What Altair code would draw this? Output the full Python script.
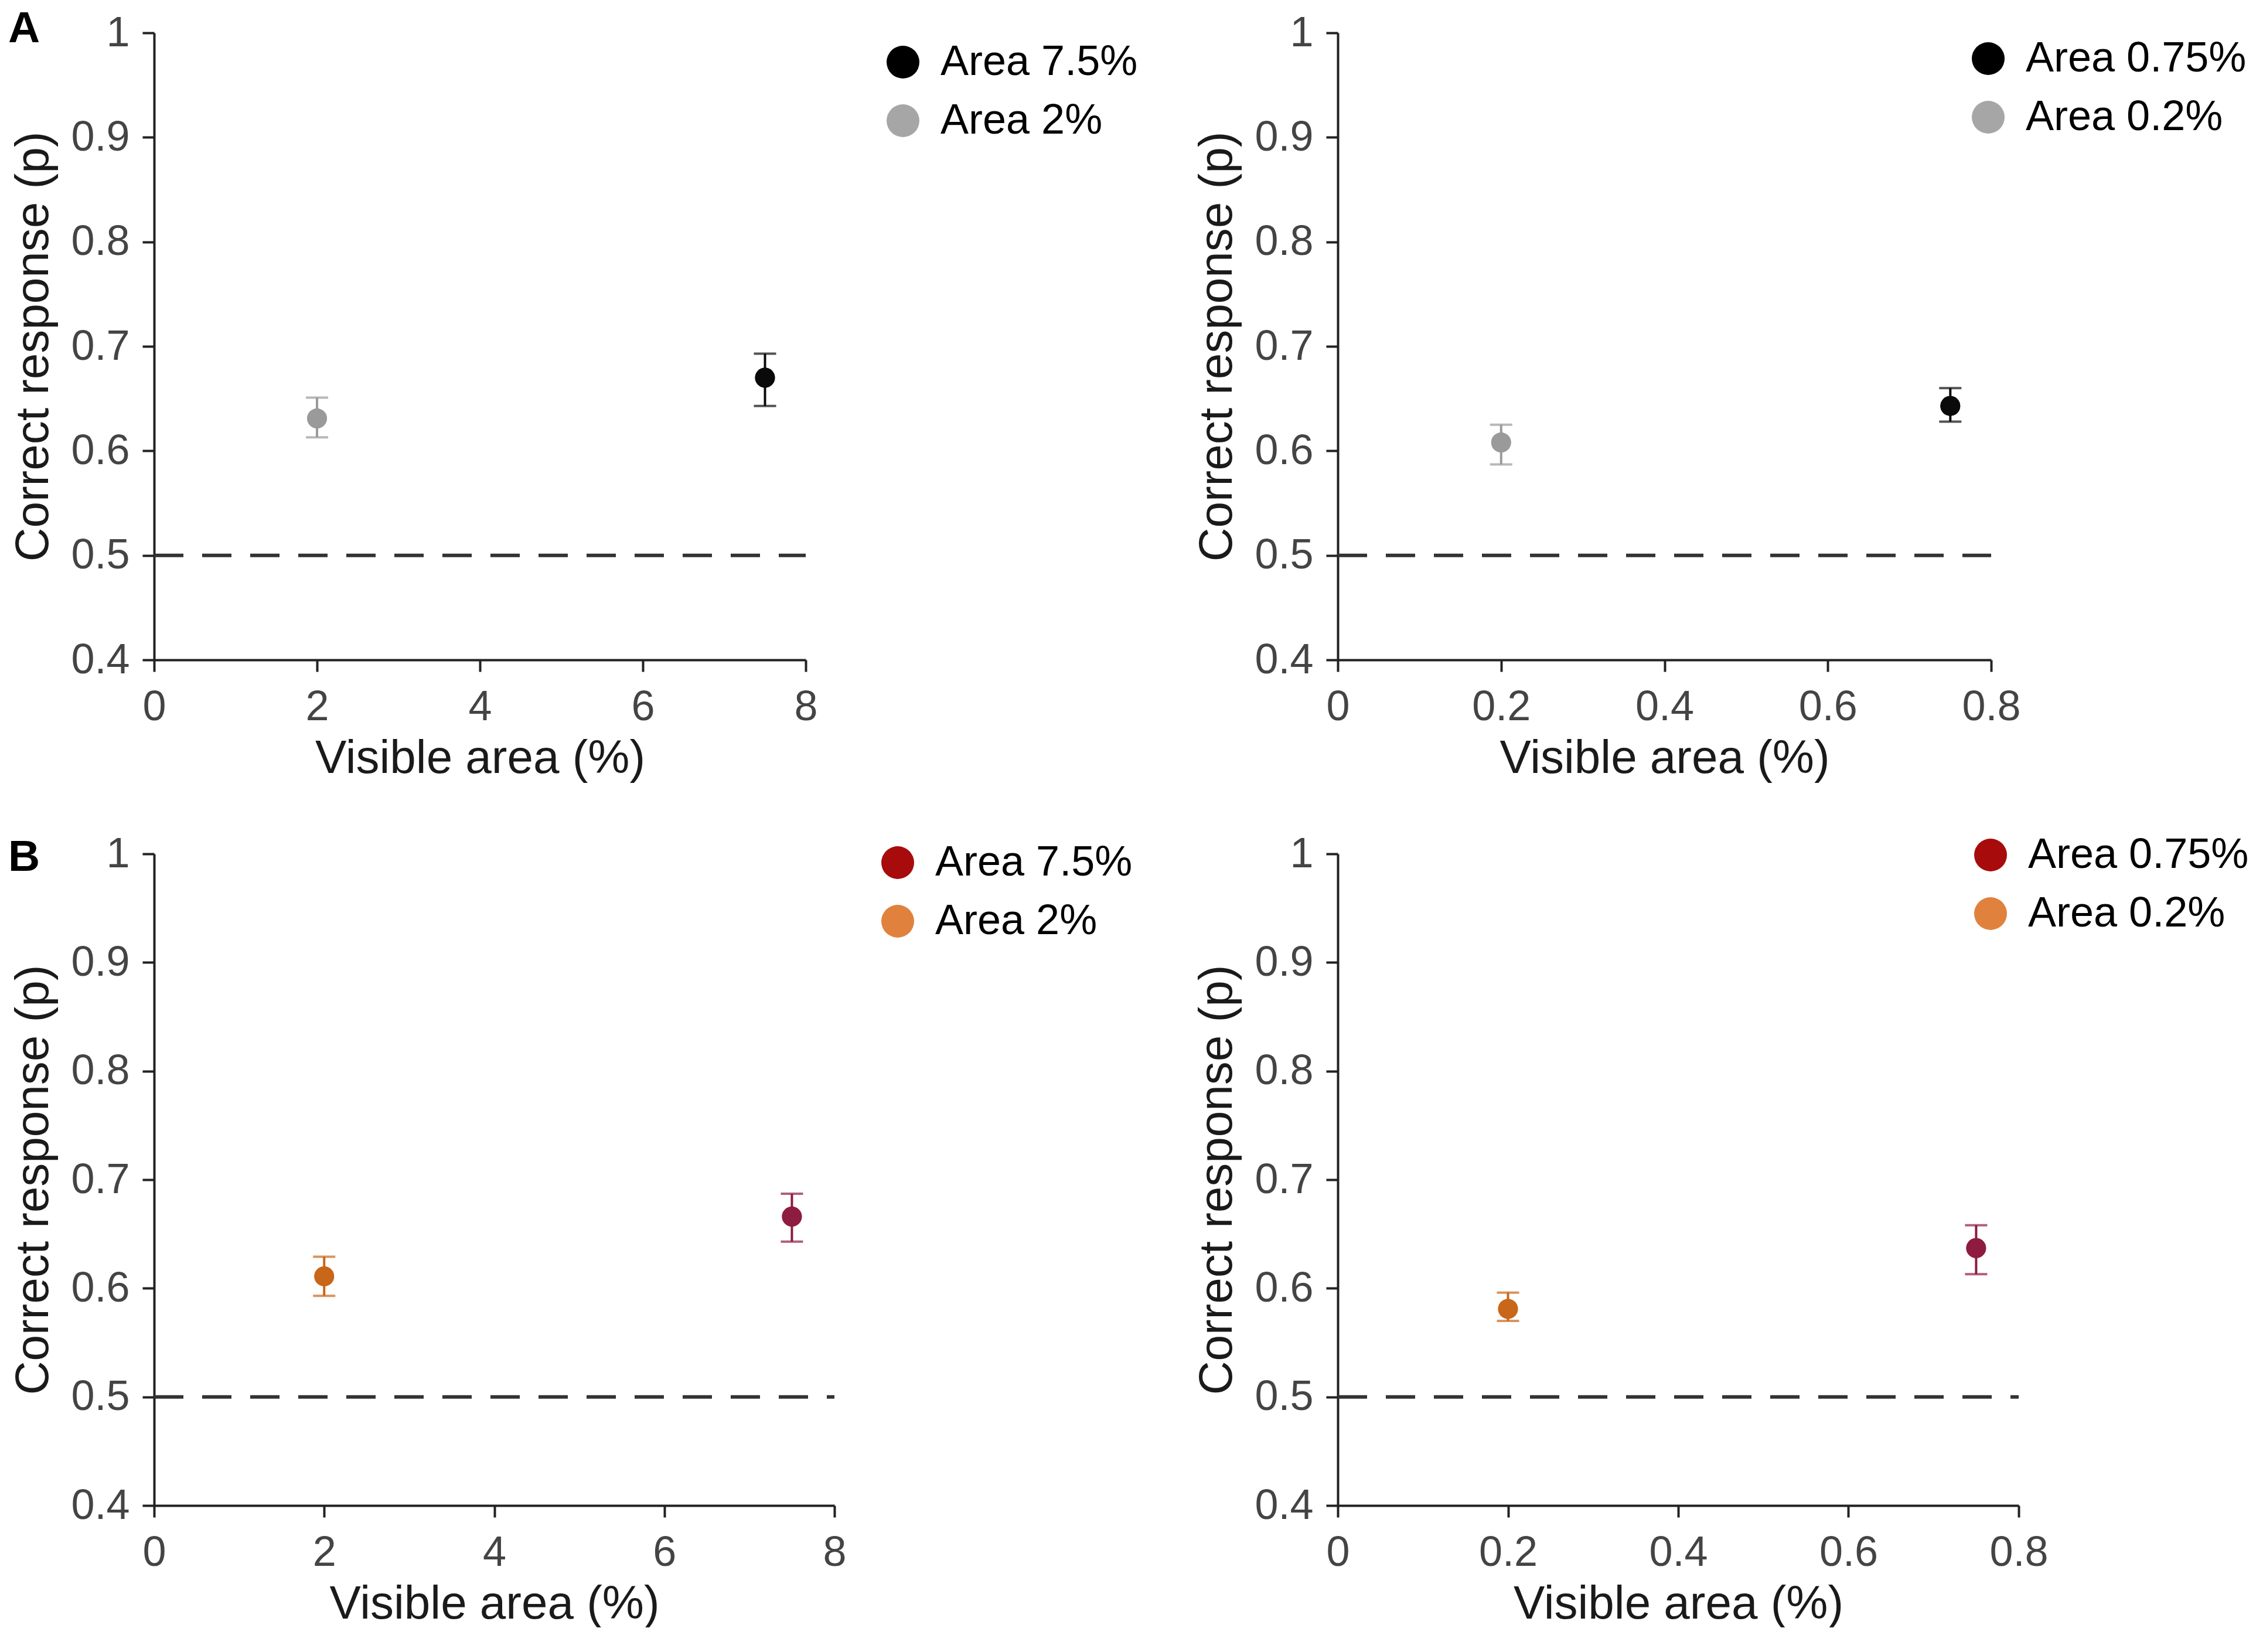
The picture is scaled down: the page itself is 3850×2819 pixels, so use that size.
import altair as alt
import pandas as pd

FONT = "Liberation Sans"

# ---- data ----
a1_x = [7.5, 2]
a1_y = [0.670, 0.631]
a1_lo = [0.643, 0.613]
a1_hi = [0.693, 0.651]
a1_labels = ["Area 7.5%", "Area 2%"]

a2_x = [0.75, 0.2]
a2_y = [0.643, 0.608]
a2_lo = [0.628, 0.587]
a2_hi = [0.660, 0.625]
a2_labels = ["Area 0.75%", "Area 0.2%"]

b1_x = [7.5, 2]
b1_y = [0.666, 0.611]
b1_lo = [0.643, 0.593]
b1_hi = [0.687, 0.629]
b1_labels = ["Area 7.5%", "Area 2%"]

b2_x = [0.75, 0.2]
b2_y = [0.637, 0.581]
b2_lo = [0.613, 0.570]
b2_hi = [0.658, 0.596]
b2_labels = ["Area 0.75%", "Area 0.2%"]

y_ticks = [0.4, 0.5, 0.6, 0.7, 0.8, 0.9, 1.0]
x_ticks_big = [0, 2, 4, 6, 8]
x_ticks_small = [0, 0.2, 0.4, 0.6, 0.8]
chance = 0.5

gray_legend = ["#000000", "#a6a6a6"]
gray_data = ["#0a0a0a", "#9a9a9a"]
warm_legend = ["#a80b0b", "#e0823d"]
warm_data = ["#8e1b40", "#c8661a"]


def panel(xs, ys, lo, hi, labels, leg_cols, dat_cols, xmax, xticks,
          w, h, legx, legy, letter=None, letter_dy=18):
    df = pd.DataFrame({"x": xs, "y": ys, "lo": lo, "hi": hi,
                       "label": labels, "dcol": dat_cols})
    xs_ = alt.Scale(domain=[0, xmax], nice=False, zero=False)
    ys_ = alt.Scale(domain=[0.4, 1.0], nice=False, zero=False)
    xaxis = alt.Axis(values=xticks, format="~g", title="Visible area (%)",
                     labelPadding=25, titlePadding=13, labelFlush=False)
    yaxis = alt.Axis(values=y_ticks, format="~g", title="Correct response (p)",
                     labelPadding=22, titlePadding=22, labelFlush=False)
    X = alt.X("x:Q", scale=xs_, axis=xaxis)
    Y = alt.Y("y:Q", scale=ys_, axis=yaxis)
    base = alt.Chart(df)

    dash_df = pd.DataFrame({"x": [0], "xe": [xmax], "y": [chance]})
    dashed = alt.Chart(dash_df).mark_rule(
        strokeDash=[50, 32], strokeWidth=6, color="#333333"
    ).encode(x=X, x2="xe:Q", y=Y)

    bars = base.mark_rule(strokeWidth=4).encode(
        x=X, y=alt.Y("lo:Q", scale=ys_, axis=yaxis), y2="hi:Q",
        color=alt.Color("dcol:N", scale=None))
    cap_lo = base.mark_tick(orient="horizontal", size=38, thickness=4).encode(
        x=X, y=alt.Y("lo:Q", scale=ys_, axis=yaxis),
        color=alt.Color("dcol:N", scale=None))
    cap_hi = base.mark_tick(orient="horizontal", size=38, thickness=4).encode(
        x=X, y=alt.Y("hi:Q", scale=ys_, axis=yaxis),
        color=alt.Color("dcol:N", scale=None))

    legend_pts = base.mark_point(filled=True, size=1150, opacity=1).encode(
        x=X, y=Y,
        color=alt.Color(
            "label:N",
            scale=alt.Scale(domain=labels, range=leg_cols),
            sort=labels,
            legend=alt.Legend(
                title=None, orient="none", legendX=legx, legendY=legy,
                padding=0, symbolType="circle", symbolSize=3136,
                symbolStrokeWidth=0, symbolOpacity=1,
                labelFont=FONT, labelFontSize=72, labelColor="#000000",
                labelOffset=28, rowPadding=28, labelLimit=0,
            ),
        ),
    )
    data_pts = base.mark_point(filled=True, size=1150, opacity=1).encode(
        x=X, y=Y, color=alt.Color("dcol:N", scale=None))

    layers = [dashed, bars, cap_lo, cap_hi, legend_pts, data_pts]
    if letter is not None:
        lt = alt.Chart(pd.DataFrame({"t": [letter]})).mark_text(
            align="left", baseline="alphabetic", fontSize=75,
            fontWeight="bold", font=FONT, color="#000000"
        ).encode(x=alt.value(-249), y=alt.value(letter_dy), text="t:N")
        layers.append(lt)
    return alt.layer(*layers).resolve_scale(color="independent").properties(
        width=w, height=h)


pA1 = panel(a1_x, a1_y, a1_lo, a1_hi, a1_labels, gray_legend, gray_data,
            8, x_ticks_big, 1112, 1070, 1242, 14, letter="A", letter_dy=16)
pA2 = panel(a2_x, a2_y, a2_lo, a2_hi, a2_labels, gray_legend, gray_data,
            0.8, x_ticks_small, 1115, 1070, 1074, 8)
pB1 = panel(b1_x, b1_y, b1_lo, b1_hi, b1_labels, warm_legend, warm_data,
            8, x_ticks_big, 1161, 1112, 1233, -21, letter="B", letter_dy=29)
pB2 = panel(b2_x, b2_y, b2_lo, b2_hi, b2_labels, warm_legend, warm_data,
            0.8, x_ticks_small, 1162, 1112, 1078, -34)

chart = alt.concat(
    pA1, pA2, pB1, pB2, columns=2, bounds="flush",
    spacing={"row": 331, "column": 859},
).resolve_scale(color="independent").resolve_legend(
    color="independent"
).properties(
    padding={"top": 4, "left": 6, "right": 0, "bottom": 0},
    background="white",
).configure_view(stroke=None).configure_axis(
    grid=False,
    domainColor="#222222", domainWidth=4,
    tickColor="#222222", tickWidth=4, tickSize=20,
    labelFont=FONT, labelFontSize=72, labelColor="#444444",
    titleFont=FONT, titleFontSize=80, titleFontWeight="normal",
    titleColor="#1a1a1a",
)

chart.save("out.html", embed_options={"renderer": "svg", "actions": False})
